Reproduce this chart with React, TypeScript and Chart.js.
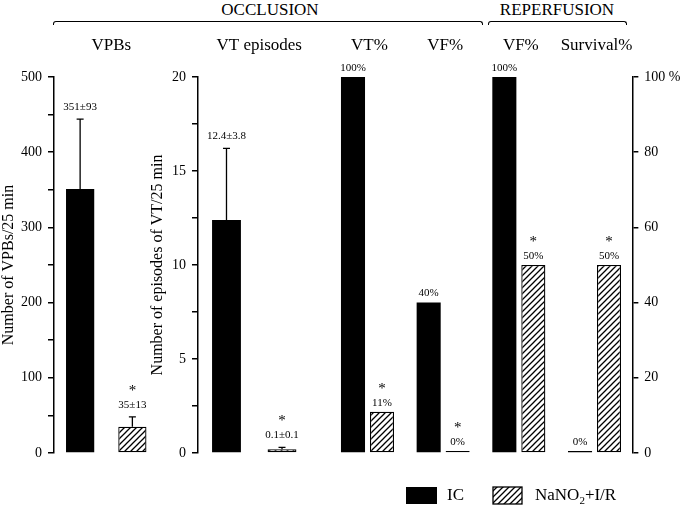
import React, { useEffect, useRef } from "react";
import { Chart, registerables } from "chart.js";

Chart.register(...registerables);

const SERIF = '"Liberation Serif", "Times New Roman", serif';

// VPBs panel (occlusion)
const vpbCategories = ["VPBs"];
const vpbIC = [351];
const vpbICErr = [93];
const vpbNano = [35];
const vpbNanoErr = [13];
const vpbICLabels = ["351±93"];
const vpbNanoLabels = ["35±13"];
const vpbTickLabels = [0, 100, 200, 300, 400, 500];

// VT episodes panel (occlusion)
const vtCategories = ["VT episodes"];
const vtIC = [12.4];
const vtICErr = [3.8];
const vtNano = [0.2];
const vtNanoErr = [0.1];
const vtICLabels = ["12.4±3.8"];
const vtNanoLabels = ["0.1±0.1"];
const vtTickLabels = [0, 5, 10, 15, 20];

// percentage panel (occlusion + reperfusion)
const pctCategories = ["VT%", "VF%", "VF%", "Survival%"];
const pctIC = [100, 40, 100, 0];
const pctNano = [11, 0, 50, 50];
const pctICLabels = ["100%", "40%", "100%", "0%"];
const pctNanoLabels = ["11%", "0%", "50%", "50%"];
const pctTickLabels = [0, 20, 40, 60, 80, 100];

const vpbStars = [true];
const vtStars = [true];
const pctStars = [true, true, true, true];

const IC_LABEL = "IC";
const NANO_LABEL = "NaNO₂+I/R";

// hachures "////" pour le groupe NaNO2
const makeHatch = (): CanvasPattern | string => {
    const size = 6;
    const c = document.createElement("canvas");
    c.width = size;
    c.height = size;
    const g = c.getContext("2d");
    if (!g) return "#fff";
    g.fillStyle = "#fff";
    g.fillRect(0, 0, size, size);
    g.strokeStyle = "#000";
    g.lineWidth = 1.3;
    g.beginPath();
    g.moveTo(0, size);
    g.lineTo(size, 0);
    g.moveTo(-1, 1);
    g.lineTo(1, -1);
    g.moveTo(size - 1, size + 1);
    g.lineTo(size + 1, size - 1);
    g.stroke();
    return g.createPattern(c, "repeat") ?? "#fff";
};

type Extra = { err?: number[]; labels: string[]; stars?: boolean[] };

const marksPlugin = (extras: Extra[], drawLegend: boolean) => ({
    id: "marks",
    afterDatasetsDraw(chart: any) {
        const ctx: CanvasRenderingContext2D = chart.ctx;
        const yScale = chart.scales.y;
        ctx.save();
        ctx.fillStyle = "#000";
        ctx.strokeStyle = "#000";
        ctx.textAlign = "center";
        ctx.textBaseline = "middle";
        chart.data.datasets.forEach((ds: any, i: number) => {
            const meta = chart.getDatasetMeta(i);
            const ex = extras[i];
            meta.data.forEach((bar: any, j: number) => {
                const v = ds.data[j] as number;
                let top = Math.min(bar.y, yScale.getPixelForValue(v));
                let gap = 9;
                if (ex.err) {
                    const e = yScale.getPixelForValue(v + ex.err[j]);
                    ctx.lineWidth = 1.3;
                    ctx.beginPath();
                    ctx.moveTo(bar.x, top);
                    ctx.lineTo(bar.x, e);
                    ctx.moveTo(bar.x - 3.5, e);
                    ctx.lineTo(bar.x + 3.5, e);
                    ctx.stroke();
                    top = e;
                    gap = 12;
                }
                const ly = top - gap;
                ctx.font = `11px ${SERIF}`;
                ctx.fillText(ex.labels[j], bar.x, ly);
                if (ex.stars && ex.stars[j]) {
                    ctx.font = `15px ${SERIF}`;
                    ctx.fillText("*", bar.x, ly - 14);
                }
            });
        });

        if (drawLegend) {
            // légende en bas
            const ds0 = chart.data.datasets[0];
            const ds1 = chart.data.datasets[1];
            ctx.textAlign = "left";
            ctx.font = `17px ${SERIF}`;
            ctx.fillStyle = ds0.backgroundColor;
            ctx.fillRect(406, 487, 31, 17);
            ctx.fillStyle = "#000";
            ctx.fillText(ds0.label, 447, 496);
            ctx.fillStyle = ds1.backgroundColor;
            ctx.fillRect(493, 487, 29, 17);
            ctx.lineWidth = 1.3;
            ctx.strokeRect(493, 487, 29, 17);
            ctx.fillStyle = "#000";
            // NaNO₂ avec indice dessiné à la main
            const parts = ds1.label.split("₂");
            let x = 535;
            ctx.fillText(parts[0], x, 496);
            x += ctx.measureText(parts[0]).width;
            ctx.font = `11px ${SERIF}`;
            ctx.fillText("2", x, 501);
            x += ctx.measureText("2").width;
            ctx.font = `17px ${SERIF}`;
            ctx.fillText(parts[1] ?? "", x, 496);
        }
        ctx.restore();
    },
});

type PanelOpts = {
    categories: string[];
    ic: number[];
    nano: number[];
    extras: Extra[];
    yMax: number;
    step: number;
    labeled: number[];
    fmt: (v: number) => string;
    yTitle?: string;
    yPosition: "left" | "right";
    padLeft: number;
    padRight: number;
    axisWidth: number;
    catPct: number;
    barPct: number;
    labelOffset: number;
    legend: boolean;
};

const makePanel = (canvas: HTMLCanvasElement, o: PanelOpts, hatch: CanvasPattern | string) => {
    const ctx = canvas.getContext("2d");
    if (!ctx) return null;
    return new Chart(ctx, {
        type: "bar",
        data: {
            labels: o.categories,
            datasets: [
                {
                    label: IC_LABEL,
                    data: o.ic,
                    backgroundColor: "#000",
                    borderColor: "#000",
                    borderWidth: 0,
                    categoryPercentage: o.catPct,
                    barPercentage: o.barPct,
                    minBarLength: 2,
                },
                {
                    label: NANO_LABEL,
                    data: o.nano,
                    backgroundColor: hatch as any,
                    borderColor: "#000",
                    borderWidth: 1.3,
                    borderSkipped: false,
                    categoryPercentage: o.catPct,
                    barPercentage: o.barPct,
                    minBarLength: 2,
                },
            ],
        },
        options: {
            responsive: false,
            animation: false,
            layout: { padding: { left: o.padLeft, right: o.padRight, top: 0, bottom: 55 } },
            plugins: { legend: { display: false }, tooltip: { enabled: false } },
            scales: {
                x: {
                    position: "top",
                    grid: { display: false, drawTicks: false },
                    border: { display: false },
                    ticks: {
                        color: "#000",
                        font: { family: SERIF, size: 17 },
                        padding: 21,
                        maxRotation: 0,
                        autoSkip: false,
                        labelOffset: o.labelOffset,
                    },
                    afterFit: (s: any) => {
                        s.height = 77;
                    },
                },
                y: {
                    position: o.yPosition,
                    min: 0,
                    max: o.yMax,
                    afterFit: (s: any) => {
                        s.width = o.axisWidth;
                    },
                    border: { display: true, color: "#000", width: 1.5 },
                    grid: {
                        drawOnChartArea: false,
                        drawTicks: true,
                        tickLength: 6,
                        color: "#000",
                        lineWidth: 1.5,
                    },
                    ticks: {
                        stepSize: o.step,
                        color: "#000",
                        font: { family: SERIF, size: 14 },
                        padding: 6,
                        autoSkip: false,
                        callback: (v: any) => (o.labeled.includes(Number(v)) ? o.fmt(Number(v)) : ""),
                    },
                    title: o.yTitle
                        ? {
                              display: true,
                              text: o.yTitle,
                              color: "#000",
                              font: { family: SERIF, size: 16, lineHeight: 1.1 },
                              padding: 0,
                          }
                        : { display: false },
                },
            } as any,
        },
        plugins: [marksPlugin(o.extras, o.legend)],
    });
};

const App = () => {
    const vpbRef = useRef<HTMLCanvasElement | null>(null);
    const vtRef = useRef<HTMLCanvasElement | null>(null);
    const pctRef = useRef<HTMLCanvasElement | null>(null);

    useEffect(() => {
        if (!vpbRef.current || !vtRef.current || !pctRef.current) return;
        const hatch = makeHatch();
        const charts = [
            makePanel(
                vpbRef.current,
                {
                    categories: vpbCategories,
                    ic: vpbIC,
                    nano: vpbNano,
                    extras: [
                        { err: vpbICErr, labels: vpbICLabels },
                        { err: vpbNanoErr, labels: vpbNanoLabels, stars: vpbStars },
                    ],
                    yMax: 500,
                    step: 50,
                    labeled: vpbTickLabels,
                    fmt: (v) => String(v),
                    yTitle: "Number of VPBs/25 min",
                    yPosition: "left",
                    padLeft: 0,
                    padRight: 521.5,
                    axisWidth: 54,
                    catPct: 1,
                    barPct: 0.54,
                    labelOffset: 5,
                    legend: false,
                },
                hatch
            ),
            makePanel(
                vtRef.current,
                {
                    categories: vtCategories,
                    ic: vtIC,
                    nano: vtNano,
                    extras: [
                        { err: vtICErr, labels: vtICLabels },
                        { err: vtNanoErr, labels: vtNanoLabels, stars: vtStars },
                    ],
                    yMax: 20,
                    step: 2.5,
                    labeled: vtTickLabels,
                    fmt: (v) => String(v),
                    yTitle: "Number of episodes of VT/25 min",
                    yPosition: "left",
                    padLeft: 149.4,
                    padRight: 369.5,
                    axisWidth: 48.6,
                    catPct: 0.987,
                    barPct: 0.52,
                    labelOffset: 5,
                    legend: false,
                },
                hatch
            ),
            makePanel(
                pctRef.current,
                {
                    categories: pctCategories,
                    ic: pctIC,
                    nano: pctNano,
                    extras: [
                        { labels: pctICLabels },
                        { labels: pctNanoLabels, stars: pctStars },
                    ],
                    yMax: 100,
                    step: 20,
                    labeled: pctTickLabels,
                    fmt: (v) => (v === 100 ? "100 %" : String(v)),
                    yPosition: "right",
                    padLeft: 329.65,
                    padRight: 0,
                    axisWidth: 47.65,
                    catPct: 0.766,
                    barPct: 0.83,
                    labelOffset: 2,
                    legend: true,
                },
                hatch
            ),
        ];
        return () => {
            charts.forEach((c) => c && c.destroy());
        };
    }, []);

    const canvasStyle: React.CSSProperties = { position: "absolute", left: 0, top: 0 };
    const headStyle: React.CSSProperties = {
        position: "absolute",
        top: 1,
        width: 200,
        textAlign: "center",
        fontFamily: SERIF,
        fontSize: 17,
        lineHeight: "17px",
        color: "#000",
        whiteSpace: "nowrap",
    };
    const bracket = (left: number, width: number): React.CSSProperties => ({
        position: "absolute",
        left,
        top: 21,
        width,
        height: 4,
        borderTop: "1.5px solid #000",
        borderLeft: "1.5px solid #000",
        borderRight: "1.5px solid #000",
        borderTopLeftRadius: 3,
        borderTopRightRadius: 3,
        boxSizing: "border-box",
    });

    return (
        <div
            style={{
                position: "absolute",
                left: 0,
                top: 0,
                width: 680,
                height: 508,
                background: "#fff",
                overflow: "hidden",
            }}
        >
            <div style={{ ...headStyle, left: 170 }}>OCCLUSION</div>
            <div style={{ ...headStyle, left: 457 }}>REPERFUSION</div>
            <div style={bracket(53, 430)} />
            <div style={bracket(488, 139)} />
            <canvas ref={vpbRef} width={680} height={508} style={canvasStyle}></canvas>
            <canvas ref={vtRef} width={680} height={508} style={canvasStyle}></canvas>
            <canvas ref={pctRef} width={680} height={508} style={canvasStyle}></canvas>
        </div>
    );
};

export default App;
